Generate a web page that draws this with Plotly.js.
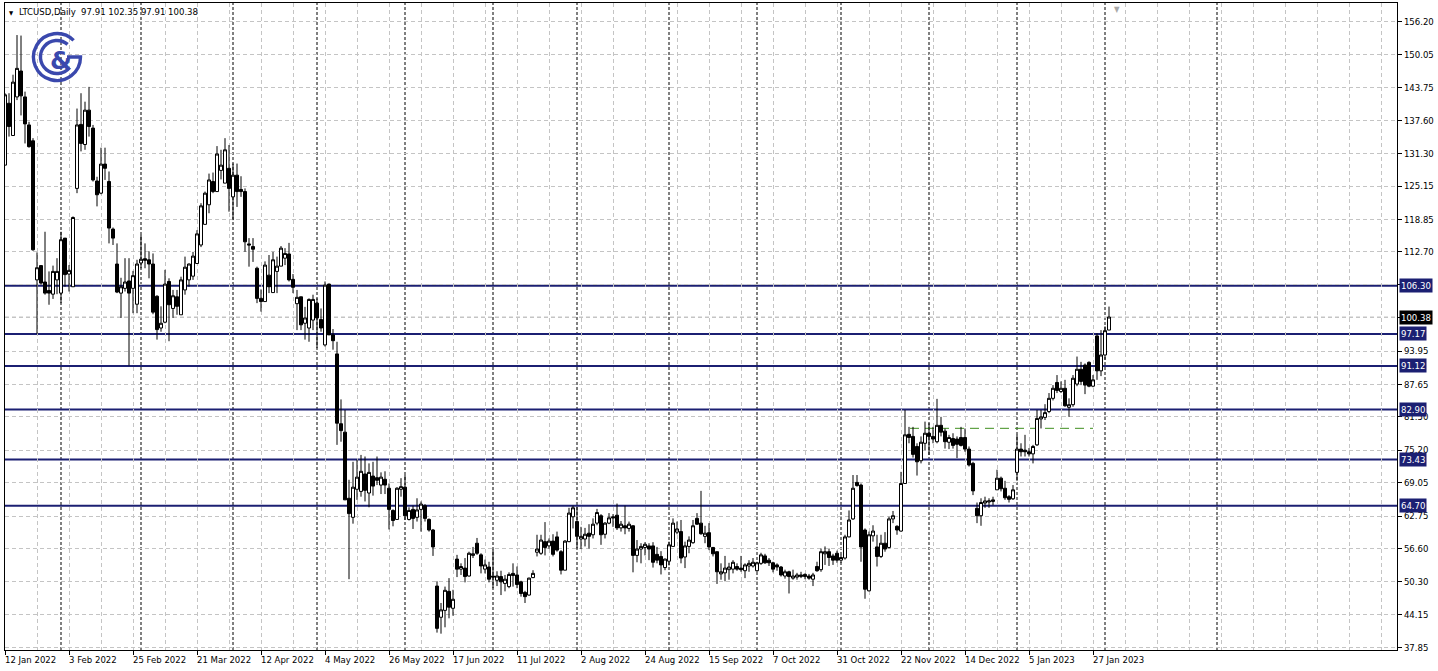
<!DOCTYPE html>
<html><head><meta charset="utf-8">
<script src="https://cdn.plot.ly/plotly-3.0.1.min.js"></script>
<style>html,body{margin:0;padding:0;background:#fff;overflow:hidden}#chart{width:1438px;height:671px}</style>
</head><body><div id="chart"></div>
<script>
// ---------------- data ----------------
const symbolTitle = 'LTCUSD,Daily';
const firstBarDate = '2022-01-12';   // bars are weekdays only
const opens = [129.1,140.8,134.7,142.0,146.9,142.0,136.7,133.7,107.4,110.1,
107.0,105.4,104.7,107.4,104.9,115.3,108.5,106.1,124.7,136.8,
133.0,139.5,136.1,126.1,123.8,129.3,126.0,117.0,110.4,104.9,
105.8,107.2,105.8,102.8,110.6,111.4,111.2,110.4,104.3,98.3,
99.4,107.1,102.0,104.2,100.8,105.5,107.4,108.1,110.5,114.0,
117.9,121.6,126.0,124.1,128.1,125.7,128.5,123.1,127.2,124.5,
124.1,114.2,113.7,109.6,103.9,103.3,108.3,105.0,109.0,110.0,
111.5,112.3,107.5,102.9,104.2,99.2,98.3,99.8,103.0,99.9,
95.1,106.6,97.0,93.4,80.2,78.6,66.1,62.5,67.8,67.4,
70.7,67.1,70.3,70.0,68.6,69.7,68.0,63.8,62.1,67.8,
68.2,62.1,64.0,62.5,64.0,64.7,62.1,60.1,49.5,43.6,
44.9,48.5,45.3,54.6,52.7,52.9,51.4,55.3,57.6,55.4,
52.7,53.1,51.4,50.6,51.3,50.0,49.4,51.9,51.6,50.3,
48.3,47.8,51.1,55.9,55.7,57.9,57.1,58.0,58.8,56.0,
52.5,57.9,62.6,61.7,58.4,58.4,59.5,59.2,61.4,62.8,
59.3,61.4,62.6,62.9,60.5,60.9,60.4,60.9,55.3,56.5,
56.8,57.1,57.1,55.5,55.1,53.0,54.2,57.0,59.7,59.8,
55.0,57.0,57.7,62.3,61.4,58.9,59.6,56.8,56.0,51.8,
52.0,52.6,52.7,53.2,52.9,52.4,53.3,53.3,52.4,53.8,
55.2,54.4,53.9,53.5,53.1,51.4,52.2,51.0,51.2,51.3,
51.7,51.4,50.8,53.2,52.6,55.6,56.0,55.2,55.7,54.4,
54.8,58.8,62.2,69.1,68.6,60.1,48.6,59.0,56.9,55.1,
57.6,56.8,62.2,60.8,59.9,68.9,78.2,77.8,75.9,73.2,
76.5,78.4,77.8,76.8,79.9,78.8,76.7,77.4,77.3,77.6,
77.6,75.4,72.7,64.2,62.8,65.2,65.4,65.5,67.7,69.9,
68.0,66.4,66.0,71.0,75.4,75.2,74.9,74.5,76.2,81.1,
81.4,82.5,85.0,88.0,86.3,86.9,83.3,83.8,87.7,90.5,
91.3,91.8,87.3,96.8,90.2,93.2,97.91];
const highs = [142.7,142.7,146.2,153.7,153.6,143.0,137.3,134.2,112.6,110.2,
116.5,109.0,110.1,111.5,116.5,115.3,110.2,119.4,139.8,142.7,
141.1,143.9,136.7,126.9,132.4,132.4,127.9,117.3,114.3,107.8,
111.5,111.5,109.1,111.2,115.9,114.3,112.8,112.4,104.5,102.4,
109.3,107.7,105.5,105.5,108.0,111.8,110.5,112.7,116.8,121.9,
124.1,127.5,127.7,132.7,132.0,134.2,132.9,129.4,129.4,127.0,
124.7,115.3,115.3,109.9,105.6,110.9,112.1,112.7,111.8,113.8,
113.4,114.4,108.5,105.5,104.2,102.3,103.9,104.6,103.9,102.0,
107.1,106.7,98.1,95.7,84.8,82.8,69.6,73.0,73.4,74.3,
74.0,72.7,73.0,74.0,71.0,71.2,68.9,64.0,68.2,69.9,
70.5,64.4,64.7,66.1,65.5,65.0,62.3,60.3,50.4,46.3,
49.4,51.0,48.8,55.4,53.8,54.8,56.0,56.9,58.6,55.7,
54.5,54.1,56.4,52.3,52.4,51.6,52.1,53.8,53.2,50.5,
48.6,51.1,52.5,59.2,59.2,61.6,58.5,59.3,59.8,56.3,
58.2,64.3,64.7,64.5,60.7,60.5,61.2,62.3,64.1,63.1,
61.6,63.3,63.1,65.1,61.8,64.7,61.7,61.0,58.2,57.6,
57.8,57.6,57.8,56.9,56.1,54.7,57.9,62.3,61.7,62.0,
57.9,58.9,62.0,63.3,67.5,60.9,61.4,56.9,56.0,53.8,
55.2,53.9,54.4,53.8,55.2,53.8,54.4,54.8,54.1,55.8,
55.6,54.8,54.1,53.8,53.3,52.6,52.4,52.6,52.0,52.2,
51.9,51.8,52.0,54.1,56.6,57.0,56.6,55.6,56.2,55.4,
59.2,63.8,70.5,70.5,68.9,60.4,59.8,61.0,59.2,59.2,
59.7,62.6,63.7,61.0,71.1,82.8,79.6,79.6,76.5,77.8,
80.6,80.3,79.6,84.9,81.5,79.3,78.1,78.4,77.8,79.6,
79.3,75.9,73.0,65.3,66.1,66.4,66.1,66.4,71.5,70.2,
69.4,66.7,68.6,78.1,76.5,78.1,75.6,76.2,82.8,82.8,
83.9,86.0,87.5,89.4,88.2,88.5,85.0,89.4,92.9,91.9,
91.6,92.0,89.4,97.3,97.9,98.6,102.35];
const lows = [129.1,134.5,134.7,141.4,138.5,133.2,132.4,112.9,97.2,106.5,
104.6,102.7,103.8,104.7,103.0,106.1,105.2,106.1,123.8,131.7,
132.0,134.5,126.0,121.3,123.6,126.3,114.3,114.0,104.9,100.2,
105.2,91.2,101.1,101.1,109.6,109.6,107.7,100.9,96.1,97.6,
99.2,95.8,100.2,100.8,100.8,104.6,106.1,107.4,110.5,113.6,
117.9,120.0,123.8,124.1,126.4,125.7,120.3,118.7,121.2,123.1,
112.7,109.9,110.8,103.0,101.4,103.3,104.9,105.0,104.9,110.0,
110.2,107.1,104.9,97.9,97.9,96.1,95.7,97.9,94.5,97.6,
94.8,97.0,94.2,76.2,76.8,65.8,50.8,61.3,65.8,66.4,
65.5,64.4,66.6,68.6,66.9,66.9,60.2,60.8,62.1,66.4,
62.0,61.9,60.3,61.7,59.8,61.7,59.8,55.2,40.7,40.5,
41.7,43.4,43.9,51.2,51.6,50.2,51.3,54.8,55.4,51.9,
51.9,50.2,49.1,49.5,47.8,48.5,49.1,49.4,49.1,47.5,
46.3,47.7,51.0,55.1,55.4,55.3,56.5,55.1,56.0,51.7,
52.5,57.8,60.4,56.6,56.5,57.0,56.6,58.5,61.0,57.3,
58.5,61.2,60.7,60.1,59.8,59.3,59.8,52.1,54.0,53.8,
55.3,54.4,53.0,53.8,51.7,52.5,53.4,57.0,59.3,53.8,
52.9,55.7,57.5,61.1,59.2,57.6,56.3,55.1,49.9,50.7,
50.4,50.7,51.9,52.4,52.2,51.0,52.2,53.0,52.2,53.5,
53.7,53.3,52.1,52.4,51.3,50.9,48.1,50.7,50.7,51.0,
50.8,50.7,49.5,52.2,52.2,53.5,53.3,53.5,53.9,53.9,
54.5,58.7,62.0,68.3,54.1,47.1,48.5,57.9,53.2,54.8,
56.0,56.6,61.4,59.2,59.8,68.9,76.5,73.8,70.4,72.7,
75.2,74.3,76.5,76.5,77.8,75.5,75.4,75.5,73.7,75.9,
74.9,72.1,66.7,61.4,60.9,64.3,64.3,64.8,67.7,67.4,
65.8,65.3,65.8,69.4,74.0,74.0,74.0,72.7,76.0,79.3,
80.9,82.2,84.6,86.0,86.0,83.4,81.5,83.4,87.3,87.5,
85.8,87.1,87.1,88.5,89.2,92.3,97.91];
const closes = [142.4,136.4,144.8,147.4,142.2,136.9,132.6,113.1,109.7,106.8,
104.9,104.9,109.0,109.0,115.0,108.4,109.2,119.2,136.7,133.2,
139.5,136.4,126.3,123.5,129.3,128.5,117.2,115.3,105.1,106.1,
107.0,104.9,108.2,110.4,111.3,111.1,110.4,101.3,98.0,99.2,
106.6,102.7,104.4,102.4,107.4,109.8,110.4,111.9,116.1,121.4,
123.8,126.3,124.1,131.2,129.1,132.0,124.7,127.2,124.1,124.1,
114.6,114.0,113.2,103.9,103.3,110.2,106.1,111.2,110.0,113.4,
112.4,107.4,106.0,104.1,98.9,100.2,103.7,103.7,100.2,98.3,
106.4,97.0,95.9,80.3,78.9,65.8,63.2,68.2,70.1,71.2,
67.6,71.0,68.4,69.5,70.1,68.6,64.0,61.9,68.0,68.3,
62.8,63.8,62.3,63.9,65.0,62.3,60.1,56.9,41.5,45.0,
48.7,45.5,47.0,52.7,53.2,51.3,55.7,55.6,55.7,53.3,
53.5,50.8,51.2,51.4,50.3,50.8,51.7,51.5,49.8,48.1,
47.5,51.0,51.9,56.5,58.2,56.8,58.0,55.5,56.3,52.5,
58.0,63.3,64.3,58.9,58.9,59.3,58.9,61.2,63.4,59.2,
61.4,62.4,62.4,60.5,61.2,60.5,61.2,55.3,56.5,57.0,
57.4,56.5,54.0,54.4,53.5,54.6,57.3,61.4,60.3,54.8,
57.1,58.2,60.9,61.2,59.4,59.5,56.9,55.6,52.2,52.2,
52.9,53.1,54.0,52.7,52.6,53.5,53.8,54.0,53.9,55.4,
53.9,53.9,52.7,53.1,51.6,52.2,51.3,51.4,51.6,51.6,
51.3,51.0,51.6,52.4,56.0,56.0,54.9,54.4,54.4,54.9,
58.8,62.0,68.0,68.5,56.9,48.9,59.2,59.9,55.1,57.6,
56.5,62.2,62.8,60.1,68.9,78.1,77.6,74.4,73.0,76.7,
78.4,77.8,77.3,79.9,78.6,76.8,77.6,76.1,76.3,76.1,
75.4,72.4,67.5,62.8,65.3,65.6,65.6,65.8,69.9,67.9,
66.2,65.9,67.7,75.4,74.9,74.9,74.5,75.9,81.2,81.5,
82.3,85.0,86.9,86.5,86.9,83.6,83.8,88.8,90.5,88.2,
87.5,87.3,88.5,90.2,93.2,97.8,100.38];

const dateTickLabels = ['12 Jan 2022','3 Feb 2022','25 Feb 2022','21 Mar 2022','12 Apr 2022','4 May 2022',
 '26 May 2022','17 Jun 2022','11 Jul 2022','2 Aug 2022','24 Aug 2022','15 Sep 2022','7 Oct 2022',
 '31 Oct 2022','22 Nov 2022','14 Dec 2022','5 Jan 2023','27 Jan 2023'];
const priceTicks = [156.20,150.05,143.75,137.60,131.30,125.15,118.85,112.70,106.55,100.25,
 93.95,87.65,81.50,75.20,69.05,62.75,56.60,50.30,44.15,37.85];
const priceTickText = ['156.20','150.05','143.75','137.60','131.30','125.15','118.85','112.70','','',
 '93.95','87.65','81.50','75.20','69.05','62.75','56.60','50.30','44.15','37.85'];
const levels = [106.30, 97.17, 91.12, 82.90, 73.43, 64.70];
const lastPrice = 100.38;
const zoneLevel = 79.33, zoneStart = '2022-11-24', zoneEnd = '2023-01-27';
const futureSeparators = ['2023-03-01'];
const header = {open: '97.91', high: '102.35', low: '97.91', close: '100.38'};

// ---------------- helpers ----------------
const DAY = 86400000;
function buildDates(start, n){
  const out=[]; let t=Date.parse(start+'T00:00:00Z');
  while(out.length<n){ const w=new Date(t).getUTCDay(); if(w!==0&&w!==6) out.push(new Date(t).toISOString().slice(0,10)); t+=DAY; }
  return out;
}
const dates = buildDates(firstBarDate, closes.length);
const idx = dates.map((d,i)=>i);
const MON = {Jan:'01',Feb:'02',Mar:'03',Apr:'04',May:'05',Jun:'06',Jul:'07',Aug:'08',Sep:'09',Oct:'10',Nov:'11',Dec:'12'};
function labelToIso(s){ const p=s.split(' '); return p[2]+'-'+MON[p[1]]+'-'+(p[0].length<2?'0'+p[0]:p[0]); }
function posOf(iso){
  const i=dates.indexOf(iso); if(i>=0) return i;
  const last=dates.length-1;
  if(iso>dates[last]) return last + (Date.parse(iso)-Date.parse(dates[last]))/DAY; // future: calendar days
  let j=dates.findIndex(d=>d>iso); return j;
}
const tickPos = dateTickLabels.map(l=>posOf(labelToIso(l)));
const sepPos = [];
for(let i=1;i<dates.length;i++){ if(dates[i].slice(0,7)!==dates[i-1].slice(0,7)) sepPos.push(i); }
futureSeparators.forEach(d=>sepPos.push(posOf(d)));

// ---------------- styling ----------------
const FONT = '"DejaVu Sans Condensed", "DejaVu Sans", sans-serif';
const NAVY = '#1b1f72';
const GRID = '#c4c4c4';
const XMAX = 348;

const shapes = [];
sepPos.forEach(p=>shapes.push({type:'line', xref:'x', yref:'paper', x0:p, x1:p, y0:0, y1:1,
  line:{color:'#000', width:1, dash:'3px,2px'}, layer:'between'}));
shapes.push({type:'line', xref:'paper', yref:'y', x0:0, x1:1, y0:lastPrice, y1:lastPrice,
  line:{color:GRID, width:1, dash:'4px,3px'}, layer:'between'});
levels.forEach(v=>shapes.push({type:'line', xref:'paper', yref:'y', x0:0, x1:1, y0:v, y1:v,
  line:{color:NAVY, width:2}, layer:'between'}));
shapes.push({type:'line', xref:'x', yref:'y', x0:posOf(zoneStart)+0.25, x1:posOf(zoneEnd), y0:zoneLevel, y1:zoneLevel,
  line:{color:'#3f8f1f', width:1, dash:'9px,6px'}, layer:'between'});

const annotations = [];
dateTickLabels.forEach((t,i)=>annotations.push({xref:'x', yref:'paper', x:tickPos[i], y:0, xanchor:'left', yanchor:'top',
  xshift:-2, yshift:-2, text:t, showarrow:false, font:{family:FONT, size:9.5, color:'#000'}}));
levels.forEach(v=>annotations.push({xref:'paper', yref:'y', x:1, y:v, xanchor:'left', yanchor:'middle', xshift:2,
  text:v.toFixed(2), showarrow:false, bgcolor:NAVY, borderpad:1, font:{family:FONT, size:9.5, color:'#fff'}}));
annotations.push({xref:'paper', yref:'y', x:1, y:lastPrice, xanchor:'left', yanchor:'middle', xshift:2,
  text:lastPrice.toFixed(2), showarrow:false, bgcolor:'#000', borderpad:1, font:{family:FONT, size:9.5, color:'#fff'}});
annotations.push({xref:'paper', yref:'paper', x:0, y:1, xanchor:'left', yanchor:'top', xshift:2, yshift:-4,
  text:'\u25BC', showarrow:false, font:{family:FONT, size:6, color:'#000'}});
annotations.push({xref:'paper', yref:'paper', x:0, y:1, xanchor:'left', yanchor:'top', xshift:12, yshift:-1,
  text:symbolTitle+'\u00a0\u00a0'+header.open+' '+header.high+' '+header.low+' '+header.close, showarrow:false,
  font:{family:FONT, size:9.5, color:'#000'}});
// chart-shift marker
annotations.push({xref:'paper', yref:'paper', x:(1117-5)/1392, y:1, xanchor:'center', yanchor:'top', yshift:0,
  text:'\u25BC', showarrow:false, font:{family:FONT, size:8, color:'#a8a8a8'}});
// logo ampersand
annotations.push({xref:'paper', yref:'paper', x:(61-5)/1392, y:(650-60)/647, xanchor:'center', yanchor:'middle',
  text:'<b>&</b>', showarrow:false, font:{family:'"DejaVu Sans", sans-serif', size:25, color:'#3a48ad'}});

const logoSvg = "<svg xmlns='http://www.w3.org/2000/svg' width='56' height='56' viewBox='0 0 56 56'>"+
 "<g fill='none' stroke='#3a48ad' stroke-width='3.4'>"+
 "<path d='M 43.6 10.4 A 23.5 23.5 0 1 0 50.5 27 L 37 27'/>"+
 "<path d='M 37.6 14.4 A 16.5 16.5 0 1 0 39.6 37.6'/>"+
 "</g></svg>";
const images = [{source:'data:image/svg+xml;charset=utf-8,'+encodeURIComponent(logoSvg), xref:'paper', yref:'paper',
  x:(30-5)/1392, y:(650-30)/647, sizex:56/1392, sizey:56/647, xanchor:'left', yanchor:'top', sizing:'stretch', layer:'above'}];

const trace = {type:'candlestick', x:idx, open:opens, high:highs, low:lows, close:closes,
  increasing:{line:{color:'#000', width:1}, fillcolor:'#fff'},
  decreasing:{line:{color:'#000', width:1}, fillcolor:'#000'},
  whiskerwidth:0, hoverinfo:'skip', showlegend:false};

const layout = {
  width:1438, height:671, margin:{l:5, r:41, t:3, b:21}, paper_bgcolor:'#fff', plot_bgcolor:'#fff',
  showlegend:false, boxgap:0.25, boxgroupgap:0, dragmode:false,
  xaxis:{range:[0, XMAX], tickmode:'array', tickvals:tickPos, ticktext:tickPos.map(()=>''), ticks:'outside', ticklen:4,
    tickcolor:'#000', tickwidth:1, showticklabels:false, showgrid:true, gridcolor:GRID, griddash:'4px,3px', gridwidth:1,
    minor:{tickmode:'linear', tick0:0, dtick:8, showgrid:true, gridcolor:GRID, griddash:'4px,3px', gridwidth:1, ticks:''},
    showline:true, mirror:true, linecolor:'#000', linewidth:1, zeroline:false, rangeslider:{visible:false}, fixedrange:true},
  yaxis:{side:'right', range:[37.41, 159.76], tickmode:'array', tickvals:priceTicks, ticktext:priceTickText,
    ticks:'outside', ticklen:4, tickcolor:'#000', tickwidth:1, tickfont:{family:FONT, size:9.5, color:'#000'},
    showgrid:true, gridcolor:GRID, griddash:'4px,3px', gridwidth:1, showline:true, mirror:true, linecolor:'#000',
    linewidth:1, zeroline:false, fixedrange:true},
  shapes:shapes, annotations:annotations, images:images
};
Plotly.newPlot('chart', [trace], layout, {displayModeBar:false, staticPlot:true});
</script></body></html>
